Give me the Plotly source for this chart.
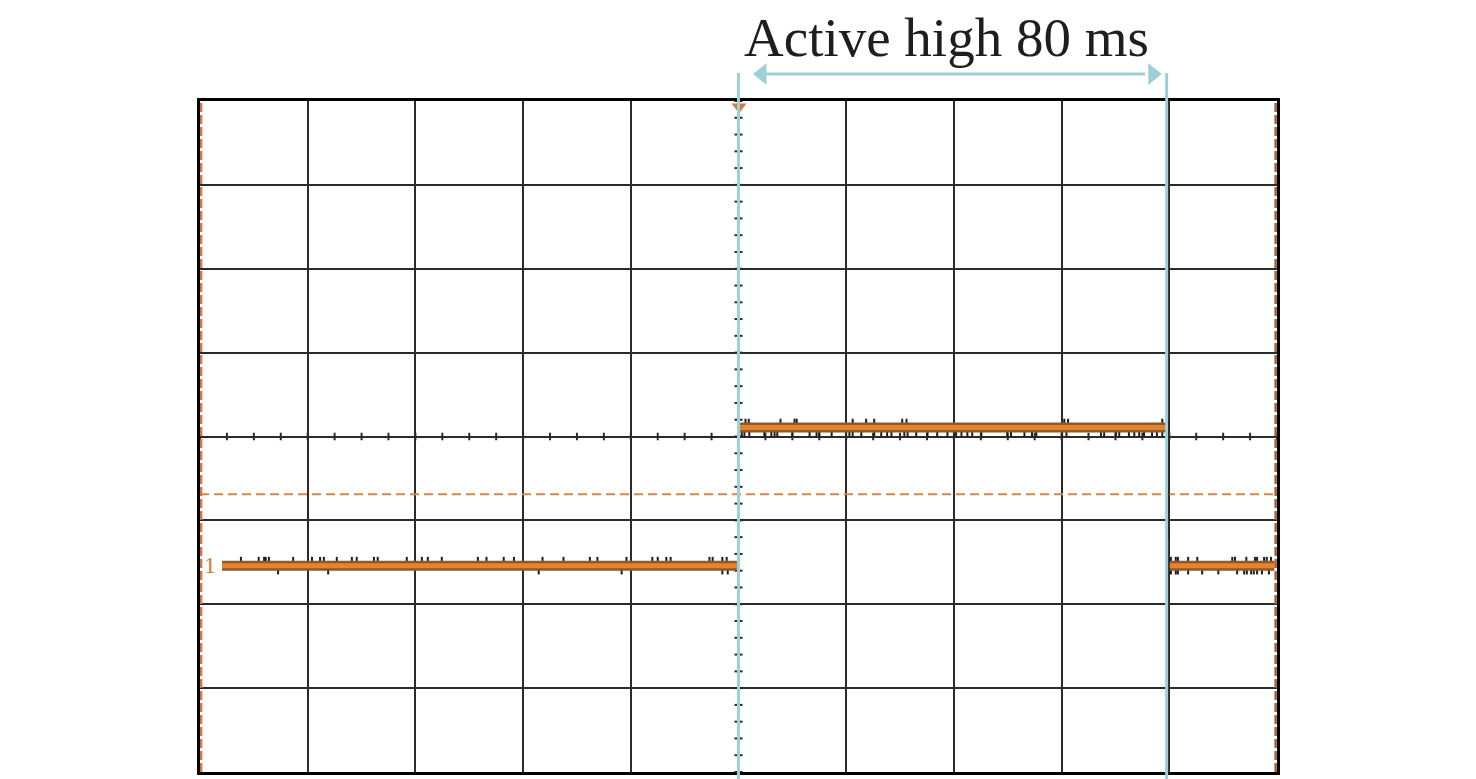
import plotly.graph_objects as go

# ---------------- data (time in ms, amplitude in divisions) ----------------
seg_start = [-95.9, 0.3, 80.1]
seg_end = [-0.3, 79.4, 99.5]
seg_level = [-1.54, 0.107, -1.54]

# noise spikes (ms)
noise_up_low1 = [-92.4, -89.1, -88.1, -87.8, -87.2, -82.7, -79.2, -77.7, -77.0, -74.6,
                 -71.8, -70.9, -67.7, -67.0, -61.6, -58.8, -57.7, -55.1, -48.4, -46.8,
                 -43.6, -41.7, -36.4, -32.5, -27.6, -26.2, -20.8, -16.0, -15.0, -13.4,
                 -12.6, -5.4, -4.8, -3.0, -2.2]
noise_dn_low1 = [-85.5, -76.2, -37.1, -21.7, -3.0, -2.0]
noise_up_high = [1.3, 1.9, 7.8, 10.4, 10.8, 21.2, 23.7, 25.2, 30.4, 31.2, 60.5, 61.2, 78.7]
noise_dn_high = [0.6, 1.1, 2.0, 4.8, 6.1, 6.7, 7.2, 10.0, 13.2, 14.5, 15.0, 17.3, 20.6,
                 21.2, 22.8, 25.2, 26.5, 27.6, 28.4, 30.8, 31.4, 33.0, 35.1, 36.9, 38.8,
                 40.4, 41.4, 42.5, 43.4, 45.1, 49.9, 50.6, 53.1, 54.5, 55.3, 60.1, 60.9,
                 67.3, 67.9, 70.1, 70.7, 72.5, 73.5, 74.4, 75.3, 76.8, 77.7, 78.7]
noise_up_low2 = [80.3, 81.2, 81.6, 83.5, 85.2, 91.7, 92.2, 94.3, 95.9, 96.3, 97.6, 98.1, 98.9]
noise_dn_low2 = [80.3, 81.2, 81.6, 83.5, 86.1, 89.1, 92.6, 93.9, 94.4, 95.2, 95.7, 96.3,
                 97.2, 98.5]

falling_edge_t = 79.8
falling_edge_y = [0.2, -1.23]
trigger_level = -0.69
cursor_t = [0.0, 79.5]
title_text = "Active high 80 ms"
channel_label = "1"

X_RANGE = [-100, 100]
Y_RANGE = [-4, 4]

GRID = "#2b2b2b"
ORANGE = "#E8832C"
BROWN = "#8A5A2C"
DASH_OR = "#D7854C"
CYAN = "#9DD0D7"
INK = "#1e1e1e"

fig = go.Figure()

# center-axis minor ticks
hx, hy = [], []
t = X_RANGE[0]
while t <= X_RANGE[1] + 1e-9:
    hx += [t, t, None]
    hy += [-0.045, 0.045, None]
    t += 5
vx, vy = [], []
v = Y_RANGE[0]
while v <= Y_RANGE[1] + 1e-9:
    vx += [-0.75, 0.75, None]
    vy += [v, v, None]
    v += 0.2
fig.add_trace(go.Scatter(x=hx, y=hy, mode="lines", line=dict(color=GRID, width=2),
                         hoverinfo="skip", showlegend=False))
fig.add_trace(go.Scatter(x=vx, y=vy, mode="lines", line=dict(color=GRID, width=2),
                         hoverinfo="skip", showlegend=False))

# trigger level dashed line
fig.add_trace(go.Scatter(x=X_RANGE, y=[trigger_level, trigger_level], mode="lines",
                         line=dict(color=DASH_OR, width=2, dash="9px,5px"),
                         hoverinfo="skip", showlegend=False))

# noise spikes
def spikes(ts, level, sign):
    xs, ys = [], []
    for tt in ts:
        xs += [tt, tt, None]
        ys += [level, level + sign * 0.105, None]
    return xs, ys

nx, ny = [], []
for ups, dns, lvl in [(noise_up_low1, noise_dn_low1, seg_level[0]),
                      (noise_up_high, noise_dn_high, seg_level[1]),
                      (noise_up_low2, noise_dn_low2, seg_level[2])]:
    a, b = spikes(ups, lvl, 1)
    nx += a; ny += b
    a, b = spikes(dns, lvl, -1)
    nx += a; ny += b
fig.add_trace(go.Scatter(x=nx, y=ny, mode="lines", line=dict(color=INK, width=2),
                         hoverinfo="skip", showlegend=False))

# signal (brown edge + orange core)
sx, sy = [], []
for s0, s1, lv in zip(seg_start, seg_end, seg_level):
    sx += [s0, s1, None]
    sy += [lv, lv, None]
fig.add_trace(go.Scatter(x=sx, y=sy, mode="lines", line=dict(color=BROWN, width=10),
                         hoverinfo="skip", showlegend=False))
fig.add_trace(go.Scatter(x=sx, y=sy, mode="lines", line=dict(color=ORANGE, width=5),
                         hoverinfo="skip", showlegend=False))

# falling edge
fig.add_trace(go.Scatter(x=[falling_edge_t, falling_edge_t], y=falling_edge_y, mode="lines",
                         line=dict(color=INK, width=2.5), hoverinfo="skip", showlegend=False))

# edge dashed markers
for xe, col in [(X_RANGE[0] + 0.2, "#D4743A"), (X_RANGE[1] - 0.25, "#A8612E")]:
    fig.add_trace(go.Scatter(x=[xe, xe], y=Y_RANGE, mode="lines",
                             line=dict(color=col, width=2.5, dash="9px,3px"),
                             hoverinfo="skip", showlegend=False))

# trigger position marker
fig.add_trace(go.Scatter(x=[0.1], y=[3.93], mode="markers", cliponaxis=False,
                         marker=dict(symbol="triangle-down", size=13, color="#D9793A"),
                         hoverinfo="skip", showlegend=False))

# cursors
shapes = []
for ct in cursor_t:
    shapes.append(dict(type="line", xref="x", yref="paper", x0=ct, x1=ct,
                       y0=-0.02, y1=1.0417, line=dict(color=CYAN, width=3), layer="above"))
ay = 1.0402
shapes.append(dict(type="line", xref="x", yref="paper", x0=cursor_t[0] + 4.0,
                   x1=cursor_t[1] - 4.0, y0=ay, y1=ay, line=dict(color=CYAN, width=3)))
l_tip, r_tip = cursor_t[0] + 2.7, cursor_t[1] - 0.9
shapes.append(dict(type="path", xref="x", yref="paper", fillcolor=CYAN, line=dict(width=0),
                   path=f"M {l_tip} {ay} L {l_tip + 2.5} 1.0566 L {l_tip + 2.5} 1.0238 Z"))
shapes.append(dict(type="path", xref="x", yref="paper", fillcolor=CYAN, line=dict(width=0),
                   path=f"M {r_tip} {ay} L {r_tip - 2.5} 1.0566 L {r_tip - 2.5} 1.0238 Z"))

annotations = [
    dict(text=title_text, xref="x", yref="paper", x=(cursor_t[0] + cursor_t[1]) / 2 - 1.1,
         y=1.094, xanchor="center", yanchor="middle", showarrow=False,
         font=dict(family="Liberation Serif, Times New Roman, serif", size=55, color=INK)),
    dict(text=channel_label, xref="x", yref="y", x=-98.1, y=seg_level[0] + 0.01,
         xanchor="center", yanchor="middle", showarrow=False,
         font=dict(family="Liberation Serif, Times New Roman, serif", size=24, color="#D9793A")),
]

fig.update_layout(
    width=1468, height=771,
    margin=dict(l=192, r=199, t=93, b=7),
    paper_bgcolor="white", plot_bgcolor="white",
    shapes=shapes, annotations=annotations,
    showlegend=False,
)
fig.update_xaxes(range=X_RANGE, dtick=20, tick0=0, showgrid=True, gridcolor=GRID, gridwidth=1.5,
                 zeroline=True, zerolinecolor=GRID, zerolinewidth=2,
                 showticklabels=False, ticks="", showline=True, linecolor="black",
                 linewidth=3, mirror=True, fixedrange=True)
fig.update_yaxes(range=Y_RANGE, dtick=1, tick0=0, showgrid=True, gridcolor=GRID, gridwidth=1.5,
                 zeroline=True, zerolinecolor=GRID, zerolinewidth=2,
                 showticklabels=False, ticks="", showline=True, linecolor="black",
                 linewidth=3, mirror=True, fixedrange=True)

fig.write_html("out.html", config={"displayModeBar": False})
